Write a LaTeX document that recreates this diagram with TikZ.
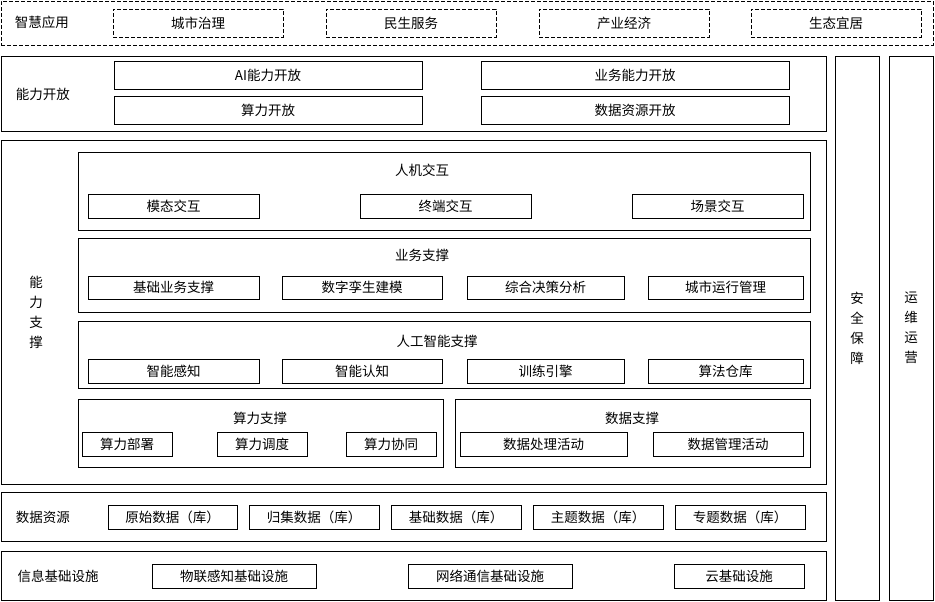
\documentclass[tikz,border=0pt]{standalone}
\usepackage{fontspec}
\setmainfont{Noto Sans CJK SC}
\newcommand\B[7][bx]{\node[#1,minimum width={(#4-#2)*1pt},minimum height={(#5-#3)*1pt}] (#7) at ({(#2+#4)/2},{(#3+#5)/2}) {#6};}
\begin{document}
\begin{tikzpicture}[x=1pt,y=-1pt,font=\fontsize{13.5}{15}\selectfont,
 bx/.style={draw,line width=0.8pt,inner sep=0pt},
 dbx/.style={bx,dashed,dash pattern=on 4pt off 2pt},
 lbl/.style={inner sep=0pt},
 vl/.style={lbl,align=center,font=\fontsize{13.5}{20}\selectfont}]
\useasboundingbox (0,0) rectangle (935,602);
% top
\B[dbx]{1}{1}{933}{45}{}{app}
\node[lbl] (appl) at (42,22) {智慧应用};
\B[dbx]{113}{9}{283}{37}{城市治理}{a1}
\B[dbx]{326}{9}{496}{37}{民生服务}{a2}
\B[dbx]{539}{9}{709}{37}{产业经济}{a3}
\B[dbx]{751}{9}{921}{37}{生态宜居}{a4}
% open
\B{1}{56}{826}{131}{}{open}
\node[lbl] (openl) at (43,94) {能力开放};
\B{114}{61}{422}{89}{AI能力开放}{o1}
\B{481}{61}{789}{89}{业务能力开放}{o2}
\B{114}{96}{422}{124}{算力开放}{o3}
\B{481}{96}{789}{124}{数据资源开放}{o4}
% support
\B{1}{140}{826}{484}{}{sup}
\node[vl] (supl) at (36,312) {能\\力\\支\\撑};
\B{78}{152}{810}{230}{}{hci}
\node[lbl] (hcit) at (422,170) {人机交互};
\B{88}{194}{259}{218}{模态交互}{h1}
\B{360}{194}{531}{218}{终端交互}{h2}
\B{632}{194}{803}{218}{场景交互}{h3}
\B{78}{238}{810}{312}{}{biz}
\node[lbl] (bizt) at (422,255) {业务支撑};
\B{88}{276}{259}{299}{基础业务支撑}{b1}
\B{282}{276}{442}{299}{数字孪生建模}{b2}
\B{467}{276}{624}{299}{综合决策分析}{b3}
\B{648}{276}{803}{299}{城市运行管理}{b4}
\B{78}{321}{810}{388}{}{ai}
\node[lbl] (ait) at (437,341) {人工智能支撑};
\B{88}{359}{259}{383}{智能感知}{i1}
\B{282}{359}{442}{383}{智能认知}{i2}
\B{467}{359}{624}{383}{训练引擎}{i3}
\B{648}{359}{803}{383}{算法仓库}{i4}
\B{78}{399}{443}{467}{}{cp}
\node[lbl] (cpt) at (260,418) {算力支撑};
\B{82}{432}{172}{456}{算力部署}{c1}
\B{217}{432}{307}{456}{算力调度}{c2}
\B{346}{432}{436}{456}{算力协同}{c3}
\B{455}{399}{810}{467}{}{ds}
\node[lbl] (dst) at (632,418) {数据支撑};
\B{460}{432}{627}{456}{数据处理活动}{d1}
\B{653}{432}{803}{456}{数据管理活动}{d2}
% data
\B{1}{492}{826}{541}{}{data}
\node[lbl] (datal) at (43,517) {数据资源};
\B{108}{505}{237}{529}{原始数据（库）}{r1}
\B{249}{505}{379}{529}{归集数据（库）}{r2}
\B{391}{505}{521}{529}{基础数据（库）}{r3}
\B{533}{505}{663}{529}{主题数据（库）}{r4}
\B{675}{505}{805}{529}{专题数据（库）}{r5}
% infra
\B{1}{551}{826}{600}{}{inf}
\node[lbl] (infl) at (58,576) {信息基础设施};
\B{152}{564}{316}{588}{物联感知基础设施}{f1}
\B{408}{564}{572}{588}{网络通信基础设施}{f2}
\B{674}{564}{804}{588}{云基础设施}{f3}
% side
\B{835}{56}{879}{600}{}{sec}
\node[vl] (secl) at (857,328) {安\\全\\保\\障};
\B{889}{56}{933}{600}{}{ops}
\node[vl] (opsl) at (911,328) {运\\维\\运\\营};
\end{tikzpicture}
\end{document}
